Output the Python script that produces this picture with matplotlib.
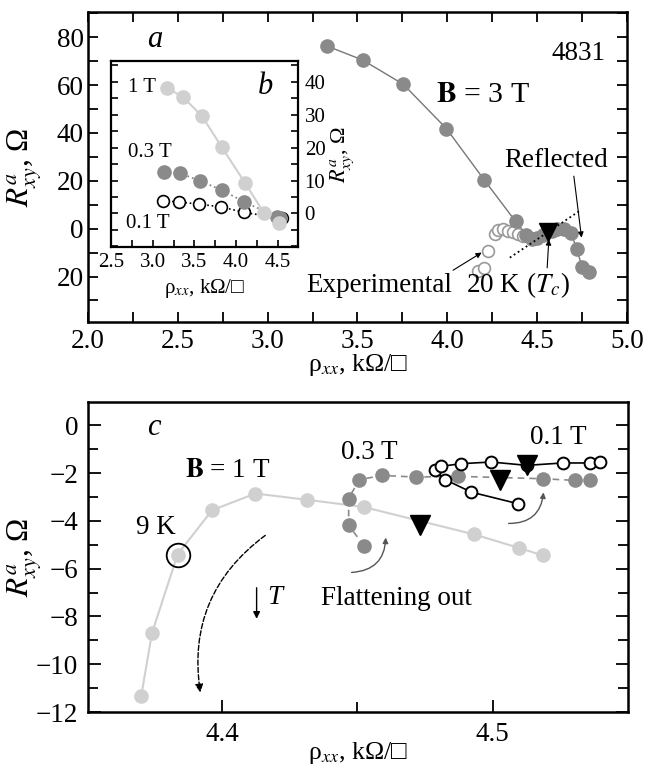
import numpy as np
import matplotlib
matplotlib.use("Agg")
import matplotlib.pyplot as plt
from matplotlib.ticker import MultipleLocator, FixedLocator, FormatStrFormatter

plt.rcParams['font.family'] = ['Liberation Serif', 'DejaVu Serif']
plt.rcParams['mathtext.fontset'] = 'stix'

# ---- panel a: B = 3 T ----
a_rho_3T = [3.33, 3.53, 3.755, 3.995, 4.205, 4.38, 4.44, 4.47, 4.50, 4.53, 4.58, 4.61, 4.65, 4.69, 4.72, 4.75, 4.79]
a_R_3T = [76.3, 70.4, 60.3, 41.8, 20.4, 3.0, -2.5, -4.5, -4.0, -2.5, -1.0, -0.2, -0.3, -2.0, -8.5, -16.0, -18.2]
a_rho_exp = [4.172, 4.205, 4.228, 4.265, 4.283, 4.311, 4.339, 4.367, 4.395, 4.422]
a_R_exp = [-17.5, -16.5, -9.2, -2.2, -0.6, -0.1, -0.8, -1.5, -2.2, -2.9]
a_Tc = (4.562, -1.5)
a_mirror_rho = [4.348, 4.738]
a_mirror_R = [-12.1, 7.5]
a_yticks = [-20, 0, 20, 40, 60, 80]
a_yticklabels = ['20', '0', '20', '40', '60', '80']

# ---- panel b (inset) ----
b_rho_1T = [3.168, 3.36, 3.588, 3.827, 4.107, 4.338, 4.518]
b_R_1T = [38.2, 35.4, 29.7, 20.2, 9.3, 0.0, -2.9]
b_rho_03T = [3.136, 3.327, 3.567, 3.827, 4.098, 4.487, 4.526]
b_R_03T = [12.6, 12.2, 9.9, 7.1, 3.5, -1.0, -1.5]
b_rho_01T = [3.127, 3.315, 3.559, 3.819, 4.098, 4.547]
b_R_01T = [3.8, 3.5, 2.8, 2.0, 0.3, -1.5]

# ---- panel c ----
c_rho_1T = [4.3702, 4.3741, 4.3836, 4.3963, 4.4123, 4.4314, 4.4523, 4.4932, 4.5096, 4.5186]
c_R_1T = [-11.32, -8.71, -5.41, -3.56, -2.86, -3.12, -3.42, -4.57, -5.13, -5.45]
c_rho_03T = [4.4526, 4.4468, 4.4468, 4.4507, 4.4593, 4.4716, 4.4871, 4.5186, 4.5305, 4.5358]
c_R_03T = [-5.06, -4.19, -3.07, -2.28, -2.10, -2.17, -2.14, -2.24, -2.31, -2.28]
c_rho_01T = [4.5092, 4.4921, 4.4825, 4.4786, 4.4810, 4.4884, 4.4995, 4.5126, 4.5259, 4.5359, 4.5396]
c_R_01T = [-3.28, -2.80, -2.28, -1.89, -1.72, -1.61, -1.54, -1.68, -1.58, -1.58, -1.54]
c_tri_rho = [4.4732, 4.5026, 4.5126]
c_tri_R = [-4.19, -2.28, -1.68]
c_9K = (4.3836, -5.41)

dark = '#8a8a8a'
light = '#d0d0d0'
fs = 19.5
fs_in = 15

fig = plt.figure(figsize=(6.6, 7.7), dpi=100)

# ================= panel a =================
ax = fig.add_axes([0.1333, 0.5818, 0.8167, 0.4026])
ax.plot(a_rho_3T, a_R_3T, '-', color='#777777', lw=1.0, zorder=2)
ax.plot(a_rho_3T, a_R_3T, 'o', ms=9.5, mfc=dark, mec=dark, zorder=3)
ax.plot(a_rho_exp, a_R_exp, 'o', ms=8.5, mfc='white', mec='#999999', mew=1.2, zorder=2)
ax.plot(a_mirror_rho, a_mirror_R, ':', color='black', lw=1.3, zorder=4)
ax.plot([a_Tc[0]], [a_Tc[1]], 'v', ms=13, color='black', zorder=5)
ax.set_xlim(2.0, 5.0)
ax.set_ylim(-39, 90.5)
ax.xaxis.set_major_locator(MultipleLocator(0.5))
ax.xaxis.set_minor_locator(MultipleLocator(0.25))
ax.xaxis.set_major_formatter(FormatStrFormatter('%.1f'))
ax.yaxis.set_major_locator(FixedLocator(a_yticks))
ax.set_yticklabels(a_yticklabels)
ax.yaxis.set_minor_locator(MultipleLocator(10))
ax.tick_params(which='both', direction='in', top=True, right=True, labelsize=fs,
               width=1.3, length=7)
ax.tick_params(axis='x', pad=5)
ax.tick_params(axis='y', pad=3)
for s in ax.spines.values():
    s.set_linewidth(1.8)
ax.set_xlabel('ρ$_{xx}$, kΩ/□', fontsize=fs - 1)
ax.xaxis.set_label_coords(0.5, -0.098)
ax.set_ylabel('$R^{a}_{xy}$, Ω', fontsize=fs + 3)
ax.yaxis.set_label_coords(-0.08, 0.5)

ax.text(2.37, 79, 'a', fontsize=22, style='italic', ha='center', va='center')
ax.text(4.73, 73, '4831', fontsize=fs, ha='center', va='center')
ax.text(4.2, 56, r'$\mathbf{B}$ = 3 T', fontsize=fs + 2, ha='center', va='center')
ax.annotate('Reflected', xy=(4.747, -3.75), xytext=(4.604, 28.3), fontsize=fs,
            ha='center', va='center',
            arrowprops=dict(arrowstyle='-|>', color='black', lw=0.8, shrinkA=0, shrinkB=0,
                            mutation_scale=8, relpos=(0.67, 0.0)))
ax.annotate('Experimental', xy=(4.191, -10), xytext=(3.619, -23.75), fontsize=fs,
            ha='center', va='center',
            arrowprops=dict(arrowstyle='-|>', color='black', lw=0.8, shrinkA=0, shrinkB=0,
                            mutation_scale=8, relpos=(0.95, 0.9)))
ax.annotate('20 K ($T_c$)', xy=(4.565, -4.5), xytext=(4.393, -23.75), fontsize=fs,
            ha='center', va='center',
            arrowprops=dict(arrowstyle='-|>', color='black', lw=0.8, shrinkA=0, shrinkB=0,
                            mutation_scale=8, relpos=(0.78, 1.0)))

# ================= panel b (inset) =================
axb = fig.add_axes([0.1682, 0.6792, 0.2829, 0.2416])
axb.set_facecolor('white')
axb.plot(b_rho_1T, b_R_1T, '-', color=light, lw=1.5, zorder=2)
axb.plot(b_rho_1T, b_R_1T, 'o', ms=9.5, mfc=light, mec=light, zorder=4)
axb.plot(b_rho_03T, b_R_03T, ':', color=dark, lw=1.3, zorder=2)
axb.plot(b_rho_03T, b_R_03T, 'o', ms=9.5, mfc=dark, mec=dark, zorder=3)
axb.plot(b_rho_01T, b_R_01T, ':', color='black', lw=1.2, zorder=1)
axb.plot(b_rho_01T, b_R_01T, 'o', ms=8.5, mfc='white', mec='black', mew=1.2, zorder=2)
axb.set_xlim(2.5, 4.74)
axb.set_ylim(-10.2, 46.3)
axb.xaxis.set_major_locator(MultipleLocator(0.5))
axb.xaxis.set_minor_locator(MultipleLocator(0.25))
axb.xaxis.set_major_formatter(FormatStrFormatter('%.1f'))
axb.yaxis.set_major_locator(FixedLocator([0, 10, 20, 30, 40]))
axb.yaxis.set_minor_locator(MultipleLocator(5))
axb.tick_params(which='both', direction='in', left=True, right=True, top=False,
                labelleft=False, labelright=True, labelsize=fs_in, width=1.2, length=5)
axb.tick_params(axis='y', pad=5)
axb.tick_params(axis='x', pad=4)
axb.yaxis.set_label_position('right')
for s in axb.spines.values():
    s.set_linewidth(1.6)
axb.set_xlabel('ρ$_{xx}$, kΩ/□', fontsize=fs_in, labelpad=4)
axb.set_ylabel('$R^{a}_{xy}$, Ω', fontsize=fs_in + 1, labelpad=2)
axb.text(2.87, 38.1, '1 T', fontsize=fs_in, ha='center', va='center')
axb.text(2.97, 18.6, '0.3 T', fontsize=fs_in, ha='center', va='center')
axb.text(2.94, -3.0, '0.1 T', fontsize=fs_in, ha='center', va='center')
axb.text(4.35, 38.4, 'b', fontsize=22, style='italic', ha='center', va='center')

# ================= panel c =================
axc = fig.add_axes([0.1333, 0.0753, 0.8182, 0.4026])
axc.plot(c_rho_1T, c_R_1T, '-', color=light, lw=1.5, zorder=2)
axc.plot(c_rho_1T, c_R_1T, 'o', ms=9.5, mfc=light, mec=light, zorder=3)
axc.plot(c_rho_03T, c_R_03T, '--', color=dark, lw=1.2, dashes=(4, 3), zorder=2)
axc.plot(c_rho_03T, c_R_03T, 'o', ms=9.5, mfc=dark, mec=dark, zorder=3)
axc.plot(c_rho_01T, c_R_01T, '-', color='black', lw=1.2, zorder=4)
axc.plot(c_rho_01T, c_R_01T, 'o', ms=8.5, mfc='white', mec='black', mew=1.4, zorder=5)
axc.plot(c_tri_rho, c_tri_R, 'v', ms=14, color='black', zorder=6)
axc.plot([c_9K[0]], [c_9K[1]], 'o', ms=17, mfc='none', mec='black', mew=1.3, zorder=6)
axc.set_xlim(4.3505, 4.55)
axc.set_ylim(-12, 0.97)
axc.xaxis.set_major_locator(FixedLocator([4.4, 4.5]))
axc.xaxis.set_minor_locator(FixedLocator([4.45]))
axc.yaxis.set_major_locator(MultipleLocator(2))
axc.yaxis.set_minor_locator(MultipleLocator(1))
axc.tick_params(which='both', direction='in', top=False, right=True, labelsize=fs, width=1.3)
axc.tick_params(which='major', length=9)
axc.tick_params(which='minor', length=7)
axc.tick_params(axis='x', which='major', pad=7)
axc.tick_params(axis='y', pad=7)
for s in axc.spines.values():
    s.set_linewidth(1.8)
axc.set_xlabel('ρ$_{xx}$, kΩ/□', fontsize=fs - 1)
axc.xaxis.set_label_coords(0.5, -0.09)
axc.set_ylabel('$R^{a}_{xy}$, Ω', fontsize=fs + 3)
axc.yaxis.set_label_coords(-0.08, 0.5)

axc.text(4.3748, -0.08, 'c', fontsize=22, style='italic', ha='center', va='center')
axc.text(4.402, -1.89, r'$\mathbf{B}$ = 1 T', fontsize=fs, ha='center', va='center')
axc.text(4.3755, -4.28, '9 K', fontsize=fs, ha='center', va='center')
axc.text(4.4545, -1.13, '0.3 T', fontsize=fs, ha='center', va='center')
axc.text(4.5244, -0.5, '0.1 T', fontsize=fs, ha='center', va='center')
axc.text(4.4645, -7.25, 'Flattening out', fontsize=fs, ha='center', va='center')
axc.text(4.4195, -7.2, 'T', fontsize=fs, style='italic', ha='center', va='center')
axc.annotate('', xy=(4.4128, -8.1), xytext=(4.4128, -6.8),
             arrowprops=dict(arrowstyle='-|>', color='black', lw=1.0, mutation_scale=10,
                             shrinkA=0, shrinkB=0))
axc.annotate('', xy=(4.392, -11.18), xytext=(4.416, -4.61),
             arrowprops=dict(arrowstyle='-|>', color='black', lw=1.0, ls='--',
                             mutation_scale=12, shrinkA=0, shrinkB=0,
                             connectionstyle='arc3,rad=0.3'))
for tail, head in [((4.4479, -6.16), (4.4605, -4.70)), ((4.5059, -4.11), (4.5188, -2.81))]:
    axc.annotate('', xy=head, xytext=tail,
                 arrowprops=dict(arrowstyle='-|>', color='#555555', lw=1.0,
                                 mutation_scale=8, shrinkA=0, shrinkB=0,
                                 connectionstyle='arc3,rad=0.45'))

fig.savefig('out.png', dpi=100)
